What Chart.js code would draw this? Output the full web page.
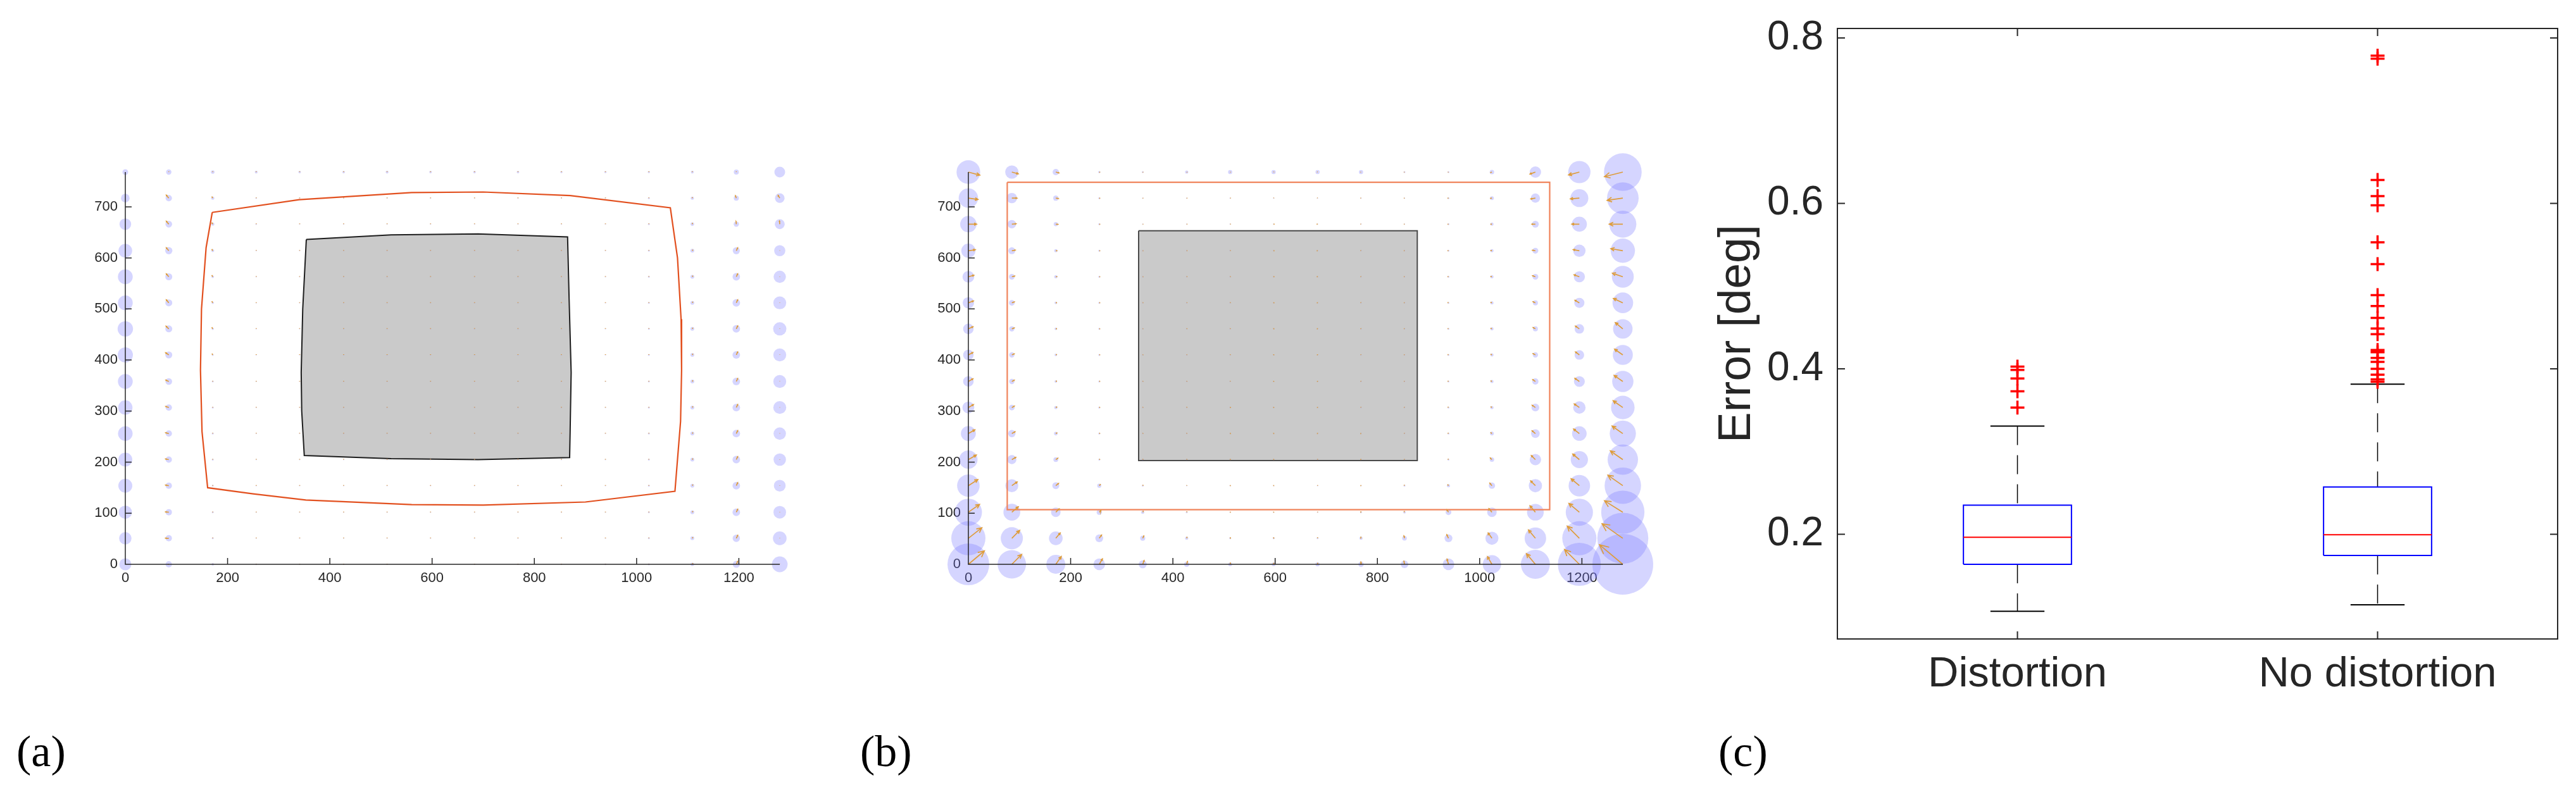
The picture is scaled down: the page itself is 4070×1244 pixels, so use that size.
<!DOCTYPE html>
<html>
<head>
<meta charset="utf-8">
<script src="https://cdn.jsdelivr.net/npm/chart.js@4.4.0/dist/chart.umd.min.js"></script>
<style>
  body { margin: 0; width: 4070px; height: 1244px; background: #fff; position: relative; overflow: hidden; }
  canvas { position: absolute; }
  .tag { position: absolute; top: 1153px; font: 70px "Liberation Serif", "Times New Roman", serif; line-height: 70px; color: #000; }
</style>
</head>
<body>
<canvas id="panelA" width="1220" height="720" style="left:90px;top:230px"></canvas>
<canvas id="panelB" width="1240" height="740" style="left:1420px;top:220px"></canvas>
<canvas id="panelC" width="1380" height="1130" style="left:2690px;top:0px"></canvas>
<div class="tag" style="left:26px">(a)</div>
<div class="tag" style="left:1359px">(b)</div>
<div class="tag" style="left:2715px">(c)</div>

<script>
// grid of calibration points (image pixels)
const GRID_X = [0, 85, 171, 256, 341, 427, 512, 597, 683, 768, 853, 939, 1024, 1109, 1195, 1280];
const GRID_Y = [0, 51, 102, 154, 205, 256, 307, 358, 410, 461, 512, 563, 614, 666, 717, 768];
const TICKS_X_AB = [0, 200, 400, 600, 800, 1000, 1200];
const TICKS_Y_AB = [0, 100, 200, 300, 400, 500, 600, 700];

// (a) error magnitude per grid point, rows from y=0 upwards
const ERR_A = [
  [9.5, 5, 2, 1.2, 1, 1, 1, 1, 1, 1, 1, 1.2, 1.5, 2.8, 5.6, 12.4],
  [9.8, 5, 1.5, 1, 1, 1, 1, 1, 1, 1, 1, 1, 1.5, 3, 5.8, 10.8],
  [10.5, 5, 1.5, 1, 1, 1, 1, 1, 1, 1, 1, 1, 1.5, 3, 6, 10],
  [11, 5, 1.5, 1, 1, 1, 1, 1, 1, 1, 1, 1, 1.5, 3, 6, 9.3],
  [11, 5, 1.5, 1, 1, 1, 1, 1, 1, 1, 1, 1, 1.5, 3, 6, 9.8],
  [11.5, 5, 1.5, 1, 1, 1, 1, 1, 1, 1, 1, 1, 1.5, 3, 6, 9.8],
  [11.3, 5, 1.5, 1, 1, 1, 1, 1, 1, 1, 1, 1, 1.5, 3, 6, 10.2],
  [11.7, 5.3, 1.5, 1, 1, 1, 1, 1, 1, 1, 1, 1, 1.5, 3, 6, 10.2],
  [12, 5.5, 1.5, 1, 1, 1, 1, 1, 1, 1, 1, 1, 1.5, 3, 6, 10.2],
  [12.2, 5.5, 1.8, 1, 1, 1, 1, 1, 1, 1, 1, 1, 1.5, 3, 6, 10.5],
  [11.7, 5.5, 1.8, 1, 1, 1, 1, 1, 1, 1, 1, 1, 1.5, 3, 6, 10.2],
  [11.7, 5.5, 2, 1, 1, 1, 1, 1, 1, 1, 1, 1, 1.5, 3, 5.9, 9.7],
  [10.8, 5.7, 2.2, 1, 1, 1, 1, 1, 1, 1, 1, 1, 1.5, 3, 5.6, 8.8],
  [9.2, 5.3, 2.5, 1.2, 1, 1, 1, 1, 1, 1, 1, 1, 1.5, 2.8, 4.2, 7.8],
  [6.8, 5, 2.5, 1.2, 1, 1, 1, 1, 1, 1, 1, 1, 1.5, 2.5, 4, 7.6],
  [4.5, 4.2, 2.8, 2.2, 2, 2, 2.2, 2, 2, 2, 1.8, 1.8, 1.8, 2.2, 4, 8.5]
];
const ARROW_LEN_A = [
  [0, 1.5, 1, 1, 1, 1, 1, 1, 1, 1, 1, 1, 1, 2, 5, 0.5],
  [0, 5, 1, 1, 1, 1, 1, 1, 1, 1, 1, 1, 1, 2, 5, 0.5],
  [0, 5, 1, 1, 1, 1, 1, 1, 1, 1, 1, 1, 1, 2, 5, 0.5],
  [0, 5, 1, 1, 1, 1, 1, 1, 1, 1, 1, 1, 1, 2, 5, 0.5],
  [0, 5, 1, 1, 1, 1, 1, 1, 1, 1, 1, 1, 1, 2, 5, 0.5],
  [0, 5, 1, 1, 1, 1, 1, 1, 1, 1, 1, 1, 1, 2, 5, 0.5],
  [0, 5, 1, 1, 1, 1, 1, 1, 1, 1, 1, 1, 1, 2, 5, 0.5],
  [0, 5, 1, 1, 1, 1, 1, 1, 1, 1, 1, 1, 1, 2, 5, 0.5],
  [0, 6, 2.5, 1, 1, 1, 1, 1, 1, 1, 1, 1, 1, 2, 5, 0.5],
  [0, 6, 3, 1, 1, 1, 1, 1, 1, 1, 1, 1, 1, 2, 5, 0.5],
  [0, 6, 3, 1, 1, 1, 1, 1, 1, 1, 1, 1, 1, 2, 5, 0.5],
  [0, 6, 3, 1, 1, 1, 1, 1, 1, 1, 1, 1, 1, 2, 5, 0.5],
  [0, 6, 3, 1, 1, 1, 1, 1, 1, 1, 1, 1, 1, 2, 5, 0.5],
  [0, 6, 3, 1, 1, 1, 1, 1, 1, 1, 1, 1, 1, 2, 4, 5],
  [0, 6, 3, 1, 1, 1, 1, 1, 1, 1, 1, 1, 1, 1.5, 4, 5],
  [0, 1, 1, 1, 1, 1, 1, 1, 1, 1, 1, 1, 1, 1, 1, 0]
];
const ARROW_ANG_A = [
  [90, 180, 90, 90, 90, 90, 90, 90, 90, 90, 90, 90, 90, 60, 65, 90],
  [90, 178, 90, 90, 90, 90, 90, 90, 90, 90, 90, 90, 90, 60, 65, 90],
  [90, 175, 90, 90, 90, 90, 90, 90, 90, 90, 90, 90, 90, 60, 65, 90],
  [90, 170, 90, 90, 90, 90, 90, 90, 90, 90, 90, 90, 90, 60, 65, 90],
  [90, 168, 90, 90, 90, 90, 90, 90, 90, 90, 90, 90, 90, 60, 65, 90],
  [90, 165, 90, 90, 90, 90, 90, 90, 90, 90, 90, 90, 90, 60, 65, 90],
  [90, 160, 90, 90, 90, 90, 90, 90, 90, 90, 90, 90, 90, 60, 65, 90],
  [90, 155, 90, 90, 90, 90, 90, 90, 90, 90, 90, 90, 90, 60, 65, 90],
  [90, 145, 120, 90, 90, 90, 90, 90, 90, 90, 90, 90, 90, 60, 65, 90],
  [90, 135, 120, 90, 90, 90, 90, 90, 90, 90, 90, 90, 90, 60, 65, 90],
  [90, 130, 120, 90, 90, 90, 90, 90, 90, 90, 90, 90, 90, 60, 65, 90],
  [90, 130, 120, 90, 90, 90, 90, 90, 90, 90, 90, 90, 90, 60, 65, 90],
  [90, 130, 120, 90, 90, 90, 90, 90, 90, 90, 90, 90, 90, 60, 65, 90],
  [90, 130, 120, 90, 90, 90, 90, 90, 90, 90, 90, 90, 90, 80, 95, 95],
  [90, 130, 120, 90, 90, 90, 90, 90, 90, 90, 90, 90, 90, 90, 110, 120],
  [90, 90, 90, 90, 90, 90, 90, 90, 90, 90, 90, 90, 90, 90, 90, 90]
];
const OUTLINE_A_X = [170, 340, 560, 700, 870, 1066, 1080, 1087, 1088, 1086, 1075, 900, 700, 560, 353, 250, 161, 150, 147, 149, 158, 170];
const OUTLINE_A_Y = [689, 714, 728, 729, 722, 698, 600, 480, 380, 280, 143, 122, 116, 117, 126, 138, 150, 260, 380, 500, 620, 689];
const REGION_A_X = [354, 520, 690, 865, 868, 872, 870, 869, 690, 520, 350, 345, 344, 347, 354];
const REGION_A_Y = [636, 645, 647, 641, 520, 376, 260, 209, 205, 207, 213, 300, 376, 500, 636];

// (b)
const ERR_B = [
  [33, 22.5, 15, 9.2, 6.3, 4, 3, 3, 3.3, 4.2, 6, 9.2, 14.5, 22.9, 34, 48],
  [27, 17.5, 10.8, 6.2, 4, 2.5, 1.5, 1.5, 1.5, 2.5, 3.7, 6.2, 10.3, 17, 27, 40.3],
  [21.5, 13.3, 7.5, 4.2, 2.5, 1.5, 1, 1, 1, 1.5, 2, 4.5, 7.5, 13.2, 21.5, 34.2],
  [17.8, 10.2, 5.5, 3.2, 1.5, 1, 1, 1, 1, 1, 1.5, 2.5, 5, 10.5, 17, 28.8],
  [14.5, 7.2, 3.8, 1.5, 1.2, 1, 1, 1, 1, 1, 1, 1.5, 3.5, 9, 13.6, 24],
  [11.8, 5.8, 2.8, 1.5, 1, 1, 1, 1, 1, 1, 1, 1.5, 3, 6.8, 11.5, 20.7],
  [9.3, 4.5, 2.5, 1.5, 1, 1, 1, 1, 1, 1, 1, 1.5, 2.5, 6.1, 9.8, 18.6],
  [8.3, 4.2, 2, 1.5, 1, 1, 1, 1, 1, 1, 1, 1.5, 2.5, 4.9, 8.6, 16.8],
  [8.3, 4.2, 2, 1.5, 1, 1, 1, 1, 1, 1, 1, 1.5, 2.5, 4.2, 7.6, 15.8],
  [8.3, 4.2, 2, 1.5, 1, 1, 1, 1, 1, 1, 1, 1.5, 2.5, 4, 7.5, 15.4],
  [9, 4.5, 2, 1.5, 1, 1, 1, 1, 1, 1, 1, 1.5, 2.5, 4, 8, 16.3],
  [9.3, 4.5, 2.5, 1.5, 1, 1, 1, 1, 1, 1, 1, 1.5, 2.5, 4.6, 8.8, 17.3],
  [11.2, 5.5, 2.5, 1.5, 1, 1, 1, 1, 1, 1, 1, 1.5, 2.5, 4.6, 9.8, 19.2],
  [13, 6.7, 3.3, 1.5, 1, 1, 1, 1, 1, 1, 1, 1.5, 2.5, 5.4, 11.9, 21.4],
  [15.3, 8.2, 4.2, 1.5, 1, 1, 1, 1, 1, 1, 1, 1.5, 3, 7.3, 14.2, 25],
  [18.7, 10.5, 5, 1.8, 1.5, 2.5, 3.3, 3.3, 3.3, 3.3, 1.5, 1.5, 3.5, 9, 17.6, 29.8]
];
const ARROW_LEN_B = [
  [33, 22, 15, 10, 6.3, 4.5, 3, 2.5, 2.5, 3.5, 5, 8.5, 14, 22, 33, 48],
  [27, 17.5, 10.8, 6.2, 4, 2.5, 1.5, 1.5, 1.5, 2.5, 3.7, 6.2, 10.3, 17, 27, 40],
  [21.5, 13.3, 7.5, 4.2, 2.5, 1.5, 1, 1, 1, 1.5, 2, 4.5, 7.5, 13.2, 21.5, 34],
  [17.8, 10.2, 5.5, 3.2, 1.5, 1, 1, 1, 1, 1, 1.5, 2.5, 5, 10.5, 17, 28.8],
  [14.5, 7.2, 3.8, 1.5, 1.2, 1, 1, 1, 1, 1, 1, 1.5, 3.5, 9, 13.6, 24],
  [11.8, 5.8, 2.8, 1.5, 1, 1, 1, 1, 1, 1, 1, 1.5, 3, 6.8, 11.5, 20.7],
  [9.3, 4.5, 2.5, 1.5, 1, 1, 1, 1, 1, 1, 1, 1.5, 2.5, 6.1, 9.8, 18.6],
  [8.3, 4.2, 2, 1.5, 1, 1, 1, 1, 1, 1, 1, 1.5, 2.5, 4.9, 8.6, 16.8],
  [8, 4, 2, 1.5, 1, 1, 1, 1, 1, 1, 1, 1.5, 2.5, 4.2, 7.6, 15.8],
  [8, 4, 2, 1.5, 1, 1, 1, 1, 1, 1, 1, 1.5, 2.5, 4, 7.5, 15.4],
  [8.5, 4.2, 2, 1.5, 1, 1, 1, 1, 1, 1, 1, 1.5, 2.5, 4, 8, 16.3],
  [9, 4.5, 2.5, 1.5, 1, 1, 1, 1, 1, 1, 1, 1.5, 2.5, 4.6, 8.8, 17.3],
  [11, 5.5, 2.5, 1.5, 1, 1, 1, 1, 1, 1, 1, 1.5, 2.5, 4.6, 9.8, 19.2],
  [13, 6.7, 3.3, 1.5, 1, 1, 1, 1, 1, 1, 1, 1.5, 2.5, 5.4, 11.9, 21.4],
  [15.3, 8.2, 4.2, 1.5, 1, 1, 1, 1, 1, 1, 1, 1.5, 3, 7.3, 14.2, 25],
  [18.7, 10.5, 5, 1.5, 1, 1, 1, 1, 1, 1, 1, 1, 3, 9, 17.6, 29.8]
];
const ARROW_ANG_B = [
  [40, 45, 55, 60, 70, 75, 80, 85, 90, 95, 100, 105, 120, 130, 135, 140],
  [38, 45, 50, 55, 65, 75, 80, 85, 90, 95, 105, 115, 125, 130, 135, 145],
  [35, 40, 45, 50, 60, 70, 80, 85, 90, 100, 110, 120, 130, 130, 140, 148],
  [33, 35, 40, 45, 55, 65, 80, 85, 90, 100, 115, 125, 130, 135, 140, 145],
  [30, 30, 35, 40, 50, 60, 80, 85, 90, 105, 120, 130, 135, 135, 140, 145],
  [30, 30, 30, 35, 45, 60, 75, 85, 95, 110, 125, 135, 140, 140, 142, 145],
  [30, 30, 30, 30, 40, 55, 70, 85, 95, 115, 130, 140, 145, 145, 145, 145],
  [30, 28, 25, 25, 35, 50, 65, 85, 95, 120, 135, 145, 150, 145, 145, 145],
  [28, 25, 20, 20, 30, 45, 60, 80, 100, 125, 140, 150, 150, 150, 143, 145],
  [25, 22, 15, 15, 25, 40, 55, 75, 105, 130, 145, 155, 155, 150, 145, 140],
  [20, 20, 10, 10, 20, 35, 50, 70, 110, 135, 150, 160, 160, 155, 150, 155],
  [15, 15, 5, 5, 10, 25, 40, 65, 115, 140, 160, 165, 165, 160, 160, 161],
  [8, 10, 0, 0, 0, 15, 30, 60, 120, 150, 170, 175, 170, 170, 170, 170],
  [0, 5, -5, -10, -10, 0, 15, 50, 130, 160, 180, 185, 180, 180, 180, 180],
  [-8, 0, -10, -15, -20, -15, 0, 40, 140, 175, 190, 190, 190, 190, 185, 188],
  [-15, -15, -15, -20, -25, -25, -15, 20, 160, 185, 195, 200, 200, 200, 195, 194]
];
const OUTLINE_B_X = [76, 1137, 1137, 76, 76];
const OUTLINE_B_Y = [748, 748, 107, 107, 748];
const REGION_B_X = [333, 878, 878, 333, 333];
const REGION_B_Y = [653, 653, 203, 203, 653];

// (c) box plot statistics
const CATEGORIES = ['Distortion', 'No distortion'];
const Q1 = [0.1636, 0.1743];
const MEDIAN = [0.1964, 0.1994];
const Q3 = [0.2352, 0.2572];
const WHISKER_LO = [0.1068, 0.1147];
const WHISKER_HI = [0.3307, 0.3815];
const OUTLIERS = [
  [0.4027, 0.3986, 0.3884, 0.3728, 0.3532],
  [0.7787, 0.7750, 0.6284, 0.6088, 0.5978, 0.5530, 0.5265, 0.4891, 0.4759, 0.4615,
   0.4488, 0.4418, 0.4228, 0.4200, 0.4131, 0.4084, 0.4000, 0.3930, 0.3872, 0.3843]
];
const TICKS_Y_C = [0.2, 0.4, 0.6, 0.8];

const ERR_SCALE = 1.24;    // error units -> image pixels (arrow length)
const RADIUS_PX = 1.0;     // error units -> circle radius on screen
const FONT = "'Liberation Sans', Arial, Helvetica, sans-serif";
const AXIS_COLOR = '#262626';

const gap = () => ({x: NaN, y: NaN});

function bubblePoints(err) {
  const pts = [];
  GRID_Y.forEach((y, r) => GRID_X.forEach((x, c) => pts.push({x: x, y: y, r: err[r][c] * RADIUS_PX})));
  return pts;
}

function arrowPath(len, ang) {
  const pts = [];
  GRID_Y.forEach((y, r) => GRID_X.forEach((x, c) => {
    const L = len[r][c] * ERR_SCALE;
    if (!L) return;
    const t = ang[r][c] * Math.PI / 180;
    const ex = x + L * Math.cos(t), ey = y + L * Math.sin(t);
    pts.push({x: x, y: y}, {x: ex, y: ey}, gap());
    if (L > 4) {
      const h = L * 0.33;
      pts.push({x: ex + h * Math.cos(t + Math.PI - 0.45), y: ey + h * Math.sin(t + Math.PI - 0.45)},
               {x: ex, y: ey},
               {x: ex + h * Math.cos(t + Math.PI + 0.45), y: ey + h * Math.sin(t + Math.PI + 0.45)},
               gap());
    }
  }));
  return pts;
}

const zip = (xs, ys) => xs.map((x, i) => ({x: x, y: ys[i]}));

// axis lines and inward ticks
const framePlugin = {
  id: 'frame',
  afterDatasetsDraw(chart, args, opts) {
    const {ctx, chartArea: a, scales: {x, y}} = chart;
    const L = opts.tick;
    ctx.save();
    ctx.strokeStyle = AXIS_COLOR;
    ctx.lineWidth = opts.width;
    ctx.beginPath();
    if (opts.box) {
      ctx.rect(a.left, a.top, a.right - a.left, a.bottom - a.top);
    } else {
      ctx.moveTo(a.left, a.top);
      ctx.lineTo(a.left, a.bottom);
      ctx.lineTo(a.right, a.bottom);
    }
    x.ticks.forEach(t => {
      const px = x.getPixelForValue(t.value);
      ctx.moveTo(px, a.bottom); ctx.lineTo(px, a.bottom - L);
      if (opts.box) { ctx.moveTo(px, a.top); ctx.lineTo(px, a.top + L); }
    });
    y.ticks.forEach(t => {
      const py = y.getPixelForValue(t.value);
      ctx.moveTo(a.left, py); ctx.lineTo(a.left + L, py);
      if (opts.box) { ctx.moveTo(a.right, py); ctx.lineTo(a.right - L, py); }
    });
    ctx.stroke();
    ctx.restore();
  }
};

function fixWidth(w) {
  return s => { s.width = w; s.paddingTop = 0; s.paddingBottom = 0; };
}
function fixHeight(h) {
  return s => { s.height = h; s.paddingLeft = 0; s.paddingRight = 0; };
}

function gridPanel(id, d) {
  new Chart(document.getElementById(id), {
    type: 'bubble',
    data: {
      datasets: [
        {
          type: 'scatter', showLine: true, data: arrowPath(d.len, d.ang),
          borderColor: '#DE9D3C', borderWidth: 1.7, pointRadius: 0, clip: false, order: 0
        },
        {
          type: 'scatter', showLine: true, data: zip(d.outlineX, d.outlineY),
          borderColor: d.outlineColor, borderWidth: 2.2, pointRadius: 0, clip: false, order: 1
        },
        {
          type: 'bubble', data: bubblePoints(d.err),
          backgroundColor: 'rgba(115, 115, 255, 0.3)', borderWidth: 0, hoverRadius: 0, clip: false, order: 2
        },
        {
          type: 'scatter', showLine: true, data: zip(d.regionX, d.regionY),
          borderColor: d.regionBorder, borderWidth: 2, backgroundColor: '#CACACA',
          fill: 'shape', pointRadius: 0, clip: false, order: 3
        }
      ]
    },
    options: {
      responsive: false,
      animation: false,
      events: [],
      layout: { padding: d.padding, autoPadding: false },
      plugins: { legend: { display: false }, tooltip: { enabled: false }, frame: { box: false, tick: 10, width: 1.5 } },
      scales: {
        x: {
          type: 'linear', min: 0, max: 1280,
          grid: { display: false, drawTicks: false }, border: { display: false },
          afterBuildTicks: s => { s.ticks = TICKS_X_AB.map(v => ({value: v})); },
          afterFit: fixHeight(d.xAxisHeight),
          ticks: { autoSkip: false, maxRotation: 0, padding: 9, color: AXIS_COLOR, font: { family: FONT, size: 22 }, callback: v => String(v) }
        },
        y: {
          type: 'linear', min: 0, max: 768,
          grid: { display: false, drawTicks: false }, border: { display: false },
          afterBuildTicks: s => { s.ticks = TICKS_Y_AB.map(v => ({value: v})); },
          afterFit: fixWidth(d.yAxisWidth),
          ticks: { autoSkip: false, padding: 12, color: AXIS_COLOR, font: { family: FONT, size: 22 }, callback: v => String(v) }
        }
      }
    },
    plugins: [framePlugin]
  });
}

gridPanel('panelA', {
  err: ERR_A, len: ARROW_LEN_A, ang: ARROW_ANG_A,
  outlineX: OUTLINE_A_X, outlineY: OUTLINE_A_Y, outlineColor: '#E2501F',
  regionX: REGION_A_X, regionY: REGION_A_Y, regionBorder: '#1E1E1E',
  padding: { top: 42, right: 78, bottom: 0, left: 0 }, xAxisHeight: 58, yAxisWidth: 108
});

gridPanel('panelB', {
  err: ERR_B, len: ARROW_LEN_B, ang: ARROW_ANG_B,
  outlineX: OUTLINE_B_X, outlineY: OUTLINE_B_Y, outlineColor: '#F0835A',
  regionX: REGION_B_X, regionY: REGION_B_Y, regionBorder: '#4A4A4A',
  padding: { top: 52, right: 96, bottom: 0, left: 0 }, xAxisHeight: 68, yAxisWidth: 110
});

// (c) box plot built from line segments
const BOX_HALF = 0.15, CAP_HALF = 0.075;
const boxPts = [], medPts = [], whiskPts = [], capPts = [], outPts = [];
CATEGORIES.forEach((c, i) => {
  const x = i + 1;
  boxPts.push({x: x - BOX_HALF, y: Q1[i]}, {x: x + BOX_HALF, y: Q1[i]}, {x: x + BOX_HALF, y: Q3[i]},
              {x: x - BOX_HALF, y: Q3[i]}, {x: x - BOX_HALF, y: Q1[i]}, gap());
  medPts.push({x: x - BOX_HALF, y: MEDIAN[i]}, {x: x + BOX_HALF, y: MEDIAN[i]}, gap());
  whiskPts.push({x: x, y: WHISKER_HI[i]}, {x: x, y: Q3[i]}, gap(), {x: x, y: Q1[i]}, {x: x, y: WHISKER_LO[i]}, gap());
  capPts.push({x: x - CAP_HALF, y: WHISKER_HI[i]}, {x: x + CAP_HALF, y: WHISKER_HI[i]}, gap(),
              {x: x - CAP_HALF, y: WHISKER_LO[i]}, {x: x + CAP_HALF, y: WHISKER_LO[i]}, gap());
  OUTLIERS[i].forEach(v => outPts.push({x: x, y: v}));
});

new Chart(document.getElementById('panelC'), {
  type: 'scatter',
  data: {
    datasets: [
      { data: outPts, pointStyle: 'cross', pointRadius: 11, borderColor: '#FF0000', borderWidth: 3.5, order: 0 },
      { data: medPts, showLine: true, borderColor: '#FF0000', borderWidth: 2, pointRadius: 0, order: 1 },
      { data: boxPts, showLine: true, borderColor: '#0000FF', borderWidth: 2, pointRadius: 0, order: 2 },
      { data: whiskPts, showLine: true, borderColor: '#000000', borderWidth: 1.5, borderDash: [30, 16], pointRadius: 0, order: 3 },
      { data: capPts, showLine: true, borderColor: '#000000', borderWidth: 2, pointRadius: 0, order: 3 }
    ]
  },
  options: {
    responsive: false,
    animation: false,
    events: [],
    layout: { padding: { top: 45, right: 29, bottom: 0, left: 0 }, autoPadding: false },
    plugins: { legend: { display: false }, tooltip: { enabled: false }, frame: { box: true, tick: 12, width: 2 } },
    scales: {
      x: {
        type: 'linear', min: 0.5, max: 2.5,
        grid: { display: false, drawTicks: false }, border: { display: false },
        afterBuildTicks: s => { s.ticks = CATEGORIES.map((c, i) => ({value: i + 1})); },
        afterFit: fixHeight(120),
        ticks: { autoSkip: false, maxRotation: 0, padding: 16, color: AXIS_COLOR, font: { family: FONT, size: 67 }, callback: v => CATEGORIES[v - 1] }
      },
      y: {
        type: 'linear', min: 0.0734, max: 0.8115,
        grid: { display: false, drawTicks: false }, border: { display: false },
        afterBuildTicks: s => { s.ticks = TICKS_Y_C.map(v => ({value: v})); },
        afterFit: fixWidth(213),
        title: { display: true, text: 'Error [deg]', color: AXIS_COLOR, font: { family: FONT, size: 73 }, padding: { top: 11, bottom: 0 } },
        ticks: { autoSkip: false, padding: 22, color: AXIS_COLOR, font: { family: FONT, size: 64 }, callback: v => v.toFixed(1) }
      }
    }
  },
  plugins: [framePlugin]
});
</script>
</body>
</html>
